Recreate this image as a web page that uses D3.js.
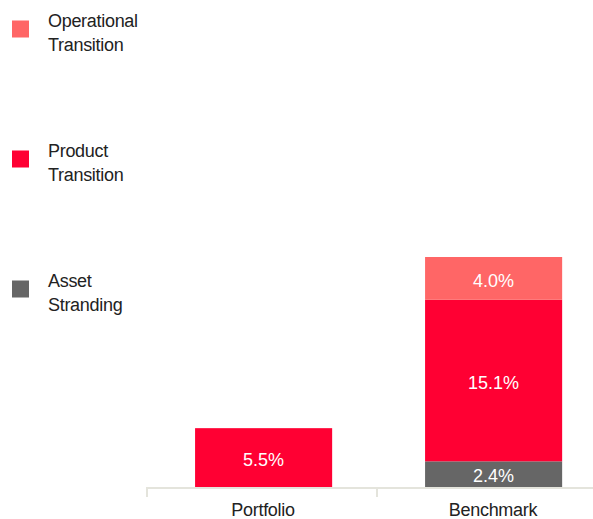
<!DOCTYPE html>
<html>
<head>
<meta charset="utf-8">
<script src="https://cdn.jsdelivr.net/npm/d3@7"></script>
<style>
  html, body { margin: 0; padding: 0; background: #fff; }
  svg { display: block; }
</style>
</head>
<body>
<svg id="chart" width="593" height="519"></svg>
<script>
// ---- data ----
const categories = ["Portfolio", "Benchmark"];
const seriesNames = ["Asset Stranding", "Product Transition", "Operational Transition"];
const assetStranding = [0, 2.4];
const productTransition = [5.5, 15.1];
const operationalTransition = [0, 4.0];
const legendLabels = [["Operational", "Transition"], ["Product", "Transition"], ["Asset", "Stranding"]];
const legendKeys = ["Operational Transition", "Product Transition", "Asset Stranding"];
const colors = { "Asset Stranding": "#666666", "Product Transition": "#ff0033", "Operational Transition": "#ff6666" };

const rows = categories.map((c, i) => ({
  category: c,
  "Asset Stranding": assetStranding[i],
  "Product Transition": productTransition[i],
  "Operational Transition": operationalTransition[i]
}));

const svg = d3.select("#chart");
const baseY = 487;
const x = d3.scaleBand().domain(categories).range([147, 607]).padding(0);
const y = d3.scaleLinear().domain([0, 21.5]).range([baseY, 257]);

const stack = d3.stack().keys(seriesNames);
const stacked = stack(rows);

const barOffset = x.bandwidth() * 0.209;
const barWidth = x.bandwidth() * 0.596;

const layers = svg.append("g").selectAll("g")
  .data(stacked).join("g")
  .attr("fill", d => colors[d.key]);

layers.selectAll("rect")
  .data(d => d.filter(s => s[1] - s[0] > 0))
  .join("rect")
  .attr("x", d => x(d.data.category) + barOffset)
  .attr("width", barWidth)
  .attr("y", d => y(d[1]))
  .attr("height", d => y(d[0]) - y(d[1]));

// value labels
svg.append("g").selectAll("g")
  .data(stacked).join("g")
  .selectAll("text")
  .data(d => d.filter(s => s[1] - s[0] > 0).map(s => ({ s, v: s[1] - s[0] })))
  .join("text")
  .attr("x", d => x(d.s.data.category) + x.bandwidth() / 2 + 1.5)
  .attr("y", d => (y(d.s[0]) + y(d.s[1])) / 2)
  .attr("dy", "0.46em")
  .attr("text-anchor", "middle")
  .attr("fill", "#ffffff")
  .style("font-family", "'Liberation Sans', Arial, sans-serif")
  .style("font-size", "18px")
  .text(d => d.v.toFixed(1) + "%");

// axis
const axisColor = "#e4e4dc";
const axisG = svg.append("g");
axisG.append("line")
  .attr("x1", x.range()[0]).attr("x2", x.range()[1])
  .attr("y1", baseY + 1).attr("y2", baseY + 1)
  .attr("stroke", axisColor).attr("stroke-width", 2);
const tickPos = categories.map(c => x(c)).concat([x(categories[categories.length - 1]) + x.bandwidth()]);
axisG.selectAll("line.tick").data(tickPos).join("line")
  .attr("class", "tick")
  .attr("x1", d => d).attr("x2", d => d)
  .attr("y1", baseY).attr("y2", baseY + 10)
  .attr("stroke", axisColor).attr("stroke-width", 2);
axisG.selectAll("text").data(categories).join("text")
  .attr("x", d => x(d) + x.bandwidth() / 2 + 1)
  .attr("y", 516)
  .attr("text-anchor", "middle")
  .attr("fill", "#222")
  .style("font-family", "'Liberation Sans', Arial, sans-serif")
  .style("font-size", "18px")
  .style("letter-spacing", "-0.3px")
  .text(d => d);

// legend
const legend = svg.append("g").selectAll("g")
  .data(legendKeys).join("g")
  .attr("transform", (d, i) => `translate(0, ${26.5 + i * 130})`);
legend.append("rect")
  .attr("x", 12).attr("y", -6)
  .attr("width", 17).attr("height", 17)
  .attr("fill", d => colors[d]);
legend.append("text")
  .attr("fill", "#222")
  .style("font-family", "'Liberation Sans', Arial, sans-serif")
  .style("font-size", "18px")
  .style("letter-spacing", "-0.3px")
  .selectAll("tspan")
  .data((d, i) => legendLabels[i])
  .join("tspan")
  .attr("x", 48)
  .attr("y", (d, j) => j * 24.5)
  .text(d => d);
</script>
</body>
</html>
